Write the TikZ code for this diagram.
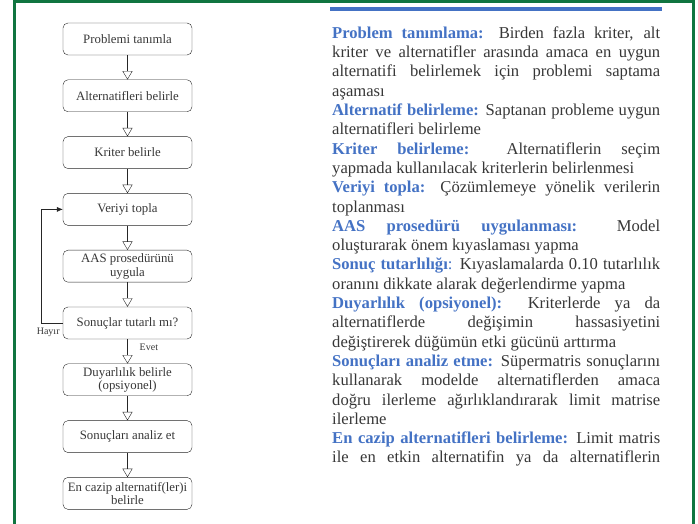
\documentclass[tikz,border=0pt]{standalone}
\usepackage{fontspec}
\setmainfont{Liberation Serif}
\usepackage{xcolor}
\usetikzlibrary{positioning,arrows.meta}
\definecolor{B}{RGB}{68,114,196}
\definecolor{G}{RGB}{16,117,64}
\definecolor{T}{RGB}{55,55,55}
\newcommand{\termname}[1]{\textcolor{B}{\textbf{#1}}}
\tikzset{
  box/.style={draw=black!85, rounded corners=5pt, minimum width=129pt, minimum height=32pt,
    inner sep=2pt, align=center, text=T, font=\fontsize{12.8}{13.6}\selectfont},
  flow/.style={draw=black!85, -{Triangle[open,width=10pt,length=8.5pt]}},
  lbl/.style={inner sep=0pt, text=T, font=\fontsize{10}{11}\selectfont}
}

\begin{document}
\begin{tikzpicture}[x=1pt,y=1pt,node distance=24.4pt]
\useasboundingbox (0,0) rectangle (698,524);
\draw[G, line width=3pt] (14,0)--(14,522.5)--(693.5,522.5)--(693.5,0);
\fill[color=B] (330,513) rectangle (662,517);
% akis
\node[box] (tanim) at (127.5,485) {Problemi tanımla};
\node[box, below=of tanim] (alt) {Alternatifleri belirle};
\node[box, below=of alt] (krit) {Kriter belirle};
\node[box, below=of krit] (veri) {Veriyi topla};
\node[box, below=of veri] (aas) {AAS prosedürünü\\uygula};
\node[box, below=of aas] (sonuc) {Sonuçlar tutarlı mı?};
\node[box, below=of sonuc] (duyar) {Duyarlılık belirle\\(opsiyonel)};
\node[box, below=of duyar] (analiz) {Sonuçları analiz et};
\node[box, below=of analiz] (cazip) {En cazip alternatif(ler)i\\belirle};
\foreach \a/\b in {tanim/alt,alt/krit,krit/veri,veri/aas,aas/sonuc,sonuc/duyar,duyar/analiz,analiz/cazip}
  \draw[flow] (\a) -- (\b);
\draw[black!85, -{Latex[length=6pt,width=5pt]}] (sonuc.west) -- ++(-22,0) |- (veri.west);
\node[lbl, anchor=east] (hayir) at ([xshift=-3pt,yshift=-9pt]sonuc.west) {Hayır};
\node[lbl, anchor=west] (evet) at ([xshift=12pt,yshift=-8pt]sonuc.south) {Evet};
% aciklama
\node[anchor=north west, inner sep=0pt, text width=328pt, align=justify, text=T,
  font=\fontsize{16.6}{19.3}\selectfont] (metin) at (332,497.5) {\hyphenpenalty=10000
\termname{Problem tanımlama:} Birden fazla kriter, alt\linebreak
kriter ve alternatifler arasında amaca en uygun\linebreak
alternatifi belirlemek için problemi saptama\linebreak
aşaması\\
\termname{Alternatif belirleme:} Saptanan probleme uygun\linebreak
alternatifleri belirleme\\
\termname{Kriter belirleme:} Alternatiflerin seçim\linebreak
yapmada kullanılacak kriterlerin belirlenmesi\\
\termname{Veriyi topla:} Çözümlemeye yönelik verilerin\linebreak
toplanması\\
\termname{AAS prosedürü uygulanması:} Model\linebreak
oluşturarak önem kıyaslaması yapma\\
\termname{Sonuç tutarlılığı}\textcolor{B}{:} Kıyaslamalarda 0.10 tutarlılık\linebreak
oranını dikkate alarak değerlendirme yapma\\
\termname{Duyarlılık (opsiyonel):} Kriterlerde ya da\linebreak
alternatiflerde değişimin hassasiyetini\linebreak
değiştirerek düğümün etki gücünü arttırma\\
\termname{Sonuçları analiz etme:} Süpermatris sonuçlarını\linebreak
kullanarak modelde alternatiflerden amaca\linebreak
doğru ilerleme ağırlıklandırarak limit matrise\linebreak
ilerleme\\
\termname{En cazip alternatifleri belirleme:} Limit matris\linebreak
ile en etkin alternatifin ya da alternatiflerin\linebreak\mbox{}};
\end{tikzpicture}
\end{document}
